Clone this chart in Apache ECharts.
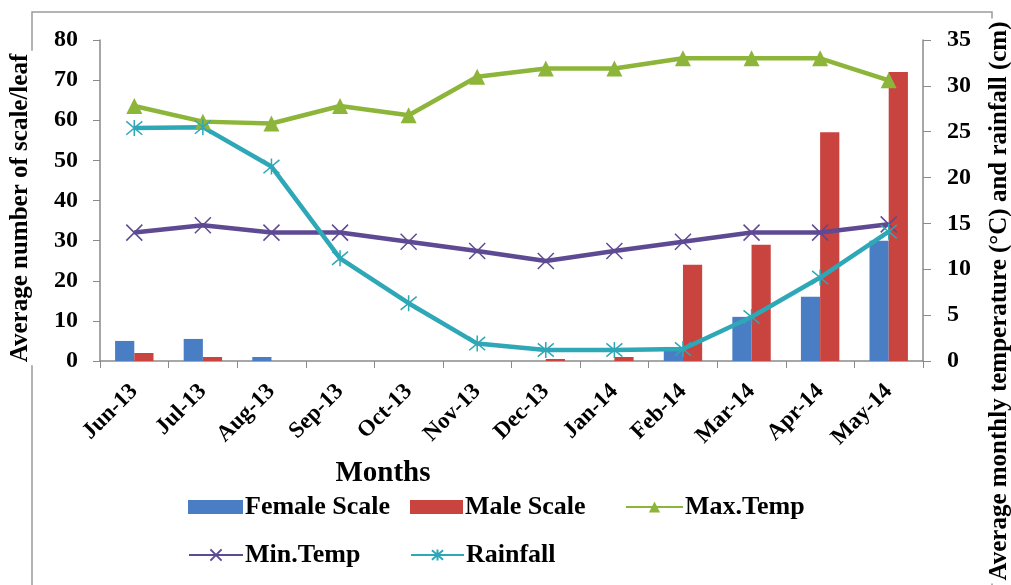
<!DOCTYPE html>
<html>
<head>
<meta charset="utf-8">
<script src="https://cdn.jsdelivr.net/npm/echarts@6/dist/echarts.min.js"></script>
<style>
  html, body { margin: 0; padding: 0; background: #fff; }
  #chart { width: 1011px; height: 585px; }
</style>
</head>
<body>
<div id="chart"></div>
<script>
// Monthly scale counts per leaf with weather data, Jun 2013 - May 2014
const months = ['Jun-13', 'Jul-13', 'Aug-13', 'Sep-13', 'Oct-13', 'Nov-13',
                'Dec-13', 'Jan-14', 'Feb-14', 'Mar-14', 'Apr-14', 'May-14'];
const femaleScale = [5, 5.5, 1, 0, 0, 0, 0, 0, 3.5, 11, 16, 30];
const maleScale   = [2, 1, 0, 0, 0, 0, 0.5, 1, 24, 29, 57, 72];
const maxTemp     = [27.8, 26.1, 25.9, 27.8, 26.8, 31, 31.9, 31.9, 33, 33, 33, 30.6];
const minTemp     = [14, 14.8, 14, 14, 13, 12, 10.9, 12, 13, 14, 14, 14.9];
const rainfall    = [25.4, 25.5, 21.2, 11.2, 6.3, 1.9, 1.2, 1.2, 1.3, 4.8, 9.1, 14.1];

const FONT = '"Liberation Serif", "Times New Roman", serif';
const C_FEMALE = '#4A7EC4';
const C_MALE = '#C9433F';
const C_MAX = '#8DB53A';
const C_MIN = '#5E4A92';
const C_RAIN = '#2EA7B7';

const crossPath = 'path://M0,0L10,10M10,0L0,10';
const starPath = 'path://M0,0L10,10M10,0L0,10M5,-1L5,11';

const chart = echarts.init(document.getElementById('chart'), null, { renderer: 'canvas' });

function legendAt(name, left, top, w, h, icon) {
  const lg = {
    data: [name], left: left, top: top, itemWidth: w, itemHeight: h, itemGap: 0,
    textStyle: { fontFamily: FONT, fontWeight: 'bold', fontSize: 26, color: '#000', padding: [0, 0, 0, -3] },
    padding: 0
  };
  if (icon) lg.icon = icon;
  return lg;
}

const option = {
  backgroundColor: '#fff',
  animation: false,
  grid: { left: 100, right: 88, top: 40, bottom: 224 },
  legend: [
    legendAt('Female Scale', 188, 494, 55, 14, 'rect'),
    legendAt('Male Scale', 410, 494, 53, 14, 'rect'),
    legendAt('Max.Temp', 625, 494, 57, 14),
    legendAt('Min.Temp', 188, 542, 54, 14),
    legendAt('Rainfall', 410, 542, 53, 14)
  ],
  xAxis: {
    type: 'category',
    data: months,
    boundaryGap: true,
    axisLine: { lineStyle: { color: '#8a8a8a', width: 1.5 } },
    axisTick: { show: true, alignWithLabel: false, length: 7, lineStyle: { color: '#8a8a8a' } },
    axisLabel: {
      rotate: 45, interval: 0, margin: 27,
      fontFamily: FONT, fontWeight: 'bold', fontSize: 23, color: '#000'
    },
    splitLine: { show: false }
  },
  yAxis: [
    {
      type: 'value', min: 0, max: 80, interval: 10, position: 'left',
      axisLine: { show: true, lineStyle: { color: '#8a8a8a', width: 1.5 } },
      axisTick: { show: true, length: 7, lineStyle: { color: '#8a8a8a' } },
      axisLabel: { margin: 22, fontFamily: FONT, fontWeight: 'bold', fontSize: 24, color: '#000' },
      splitLine: { show: false }
    },
    {
      type: 'value', min: 0, max: 35, interval: 5, position: 'right',
      axisLine: { show: true, lineStyle: { color: '#8a8a8a', width: 1.5 } },
      axisTick: { show: true, length: 8, lineStyle: { color: '#8a8a8a' } },
      axisLabel: { margin: 24, fontFamily: FONT, fontWeight: 'bold', fontSize: 24, color: '#000' },
      splitLine: { show: false }
    }
  ],
  series: [
    {
      name: 'Female Scale', type: 'bar', yAxisIndex: 0, data: femaleScale,
      barGap: '0%', barCategoryGap: '44%',
      itemStyle: { color: C_FEMALE }
    },
    {
      name: 'Male Scale', type: 'bar', yAxisIndex: 0, data: maleScale,
      barGap: '0%', barCategoryGap: '44%',
      itemStyle: { color: C_MALE }
    },
    {
      name: 'Max.Temp', type: 'line', yAxisIndex: 1, data: maxTemp,
      symbol: 'triangle', symbolSize: 16, showAllSymbol: true,
      lineStyle: { color: C_MAX, width: 4.5 },
      itemStyle: { color: C_MAX }
    },
    {
      name: 'Min.Temp', type: 'line', yAxisIndex: 1, data: minTemp,
      symbol: crossPath, symbolSize: 16, showAllSymbol: true,
      lineStyle: { color: C_MIN, width: 4.5 },
      itemStyle: { color: C_MIN, borderColor: C_MIN, borderWidth: 1.5 }
    },
    {
      name: 'Rainfall', type: 'line', yAxisIndex: 1, data: rainfall,
      symbol: starPath, symbolSize: 16, showAllSymbol: true,
      lineStyle: { color: C_RAIN, width: 4.5 },
      itemStyle: { color: C_RAIN, borderColor: C_RAIN, borderWidth: 1.5 }
    }
  ],
  graphic: [
    // outer frame of the chart area
    {
      type: 'polyline', z: -1, silent: true,
      shape: { points: [[32, 600], [32, 12], [992, 12], [992, 600]] },
      style: { stroke: '#9a9a9a', lineWidth: 1.5, fill: null }
    },
    {
      type: 'text', x: 21, y: 208, rotation: Math.PI / 2, z: 5,
      style: {
        text: 'Average number of scale/leaf',
        font: 'bold 25px ' + FONT, fill: '#000',
        align: 'center', verticalAlign: 'middle',
        backgroundColor: '#fff', padding: [0, 3]
      }
    },
    {
      type: 'text', x: 1000, y: 301, rotation: Math.PI / 2, z: 5,
      style: {
        text: 'Average monthly temperature (\u00B0C) and rainfall (cm)',
        font: 'bold 25px ' + FONT, fill: '#000',
        align: 'center', verticalAlign: 'middle',
        backgroundColor: '#fff', padding: [0, 3]
      }
    },
    {
      type: 'text', x: 383, y: 474, z: 5,
      style: {
        text: 'Months', font: 'bold 29px ' + FONT, fill: '#000',
        align: 'center', verticalAlign: 'middle'
      }
    }
  ]
};

chart.setOption(option);
</script>
</body>
</html>
